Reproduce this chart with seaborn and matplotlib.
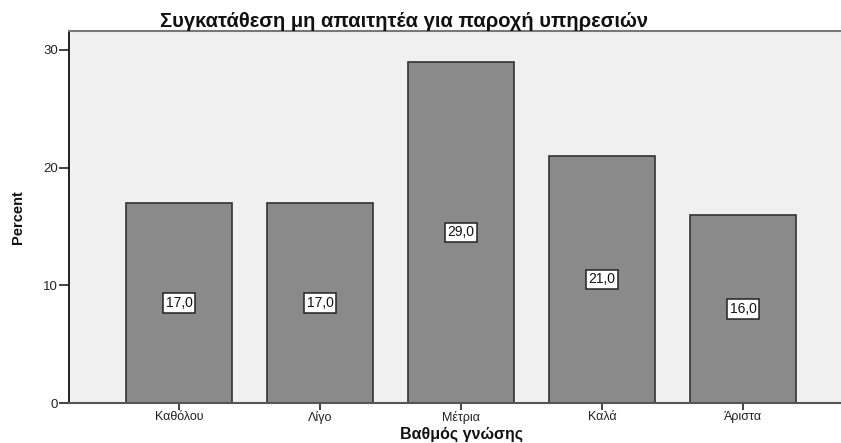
import matplotlib
matplotlib.use("Agg")
import matplotlib.pyplot as plt
import seaborn as sns
import pandas as pd

categories = ["Καθόλου", "Λίγο", "Μέτρια", "Καλά", "Άριστα"]
percent = [17.0, 17.0, 29.0, 21.0, 16.0]
value_labels = ["17,0", "17,0", "29,0", "21,0", "16,0"]
yticks = [0, 10, 20, 30]

sns.set_style("white")
plt.rcParams['font.family'] = ['Liberation Sans', 'DejaVu Sans']

df = pd.DataFrame({"cat": categories, "pct": percent})

fig = plt.figure(figsize=(8.41, 4.43), dpi=100)
ax = fig.add_axes([69/841, 40/443, 784/841, 372/443])
sns.barplot(data=df, x="cat", y="pct", color="#8a8a8a", saturation=1,
            width=0.75, edgecolor="#333333", linewidth=1.2, ax=ax)
ax.set_facecolor("#f0f0f0")
ax.set_xlim(-0.78, 4.78)
ax.set_ylim(0, 31.6)
ax.set_yticks(yticks)
ax.set_yticklabels([str(t) for t in yticks], fontsize=9.5, color="#222222")
ax.tick_params(axis='y', left=True, length=7, width=1.2, color="#222222", pad=1)
ax.tick_params(axis='x', bottom=True, length=5, width=1.2, color="#222222", labelsize=9, pad=1)
for lab in ax.get_xticklabels():
    lab.set_color("#222222")

ax.spines["left"].set_visible(True)
ax.spines["left"].set_color("#111111")
ax.spines["left"].set_linewidth(1.3)
ax.spines["bottom"].set_visible(True)
ax.spines["bottom"].set_color("#555555")
ax.spines["bottom"].set_linewidth(1.5)
ax.spines["top"].set_visible(True)
ax.spines["top"].set_color("#777777")
ax.spines["top"].set_linewidth(1.5)
ax.spines["right"].set_visible(False)

for i, (v, t) in enumerate(zip(percent, value_labels)):
    ax.text(i, v / 2, t, ha="center", va="center", fontsize=10, color="#111111",
            bbox=dict(boxstyle="square,pad=0.2", facecolor="white", edgecolor="#222222", linewidth=1.1))

ax.set_title("Συγκατάθεση μη απαιτητέα για παροχή υπηρεσιών", fontsize=14.5,
             fontweight="bold", pad=3, x=(404 - 69) / 784, color="#111111")
ax.set_ylabel("Percent", fontsize=10.5, fontweight="bold", color="#111111")
ax.yaxis.set_label_coords(-(69 - 25) / 784, 0.5)
ax.set_xlabel("Βαθμός γνώσης", fontsize=11.5, fontweight="bold", color="#111111")
ax.xaxis.set_label_coords((461 - 69) / 784, -(427 - 403) / 372)

fig.savefig("out.png", dpi=100)
